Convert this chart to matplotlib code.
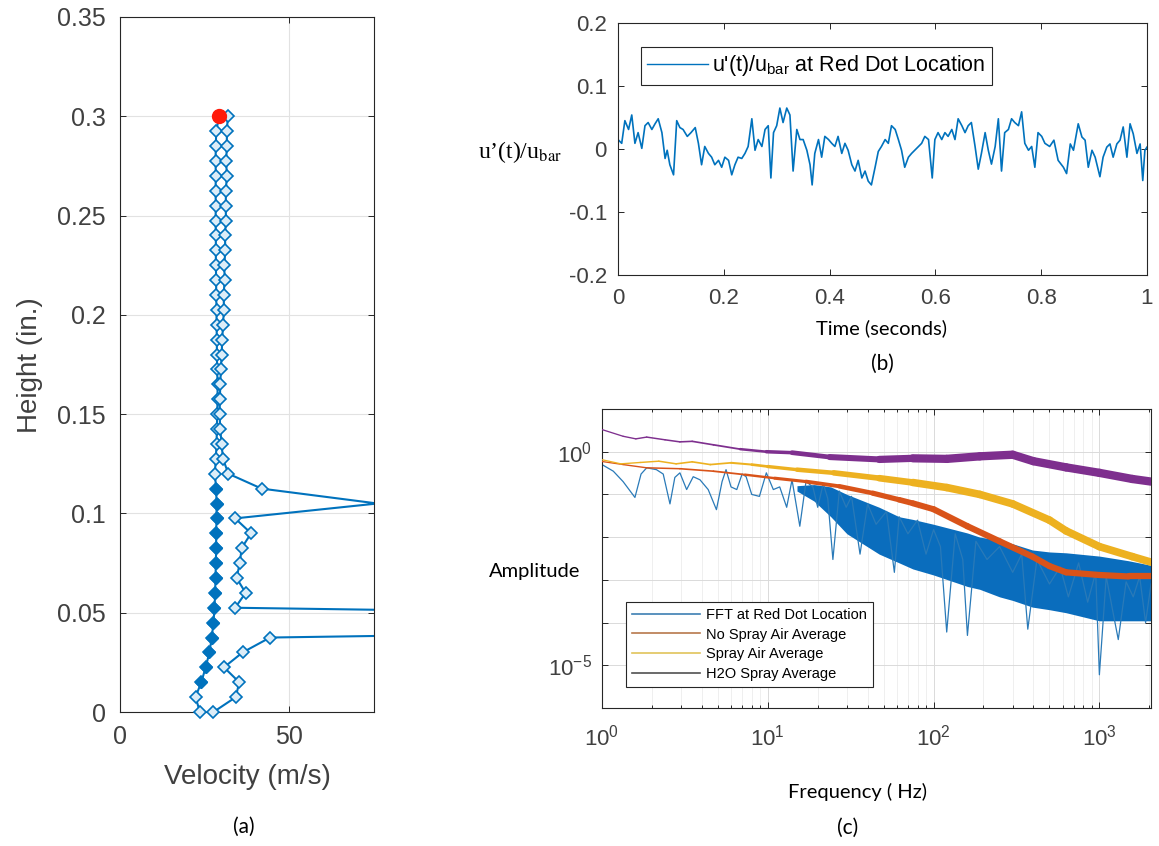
import numpy as np
import matplotlib
matplotlib.use("Agg")
import matplotlib.pyplot as plt
from matplotlib.collections import LineCollection
from matplotlib.lines import Line2D
from matplotlib.ticker import FixedLocator, FuncFormatter, FormatStrFormatter, LogLocator, NullFormatter

# ---------------- data ----------------
# (a) velocity profile: heights sampled every 0.0075 in.
heights = [0.0, 0.0075, 0.015, 0.0225, 0.03, 0.0375, 0.045, 0.0525, 0.06, 0.0675,
           0.075, 0.0825, 0.09, 0.0975, 0.105, 0.1125, 0.12, 0.1275, 0.135, 0.1425,
           0.15, 0.1575, 0.165, 0.1725, 0.18, 0.1875, 0.195, 0.2025, 0.21, 0.2175,
           0.225, 0.2325, 0.24, 0.2475, 0.255, 0.2625, 0.27, 0.2775, 0.285, 0.2925, 0.3]
# upward pass (bottom -> top)
vel_up = [23.6, 22.3, 24.0, 25.3, 26.4, 27.1, 27.6, 27.9, 28.1, 28.2,
          28.3, 28.4, 28.4, 28.5, 28.5, 28.4, 28.0, 28.3, 28.5, 28.6,
          28.7, 28.8, 28.8, 28.7, 28.6, 28.6, 28.5, 28.5, 28.4, 28.4,
          28.3, 28.3, 28.3, 28.2, 28.3, 28.2, 28.3, 28.2, 28.3, 28.4, 29.3]
# downward pass (top -> bottom)
vel_down = [31.8, 31.6, 31.5, 31.4, 31.5, 31.3, 31.2, 31.3, 31.0, 31.1,
            30.8, 30.9, 30.6, 30.7, 30.4, 30.2, 30.0, 29.8, 29.6, 29.5,
            29.4, 29.6, 30.0, 30.4, 32.0, 41.8, 76.0, 34.0, 38.7, 35.9,
            35.4, 34.4, 37.1, 34.0, 340.0, 44.3, 36.2, 30.7, 35.2, 34.2, 27.6]

# (b) u'(t)/u_bar time trace
time_s = [0.000, 0.007, 0.013, 0.020, 0.026, 0.032, 0.038, 0.045, 0.051, 0.057,
          0.064, 0.070, 0.076, 0.083, 0.089, 0.093, 0.098, 0.105, 0.111, 0.117,
          0.123, 0.131, 0.138, 0.146, 0.152, 0.158, 0.164, 0.171, 0.177, 0.183,
          0.190, 0.196, 0.202, 0.209, 0.215, 0.221, 0.227, 0.234, 0.240, 0.246,
          0.253, 0.259, 0.265, 0.272, 0.278, 0.284, 0.289, 0.294, 0.300, 0.306,
          0.312, 0.319, 0.325, 0.331, 0.338, 0.344, 0.350, 0.357, 0.363, 0.367,
          0.372, 0.379, 0.385, 0.391, 0.398, 0.404, 0.410, 0.416, 0.423, 0.429,
          0.435, 0.442, 0.448, 0.454, 0.461, 0.467, 0.473, 0.479, 0.486, 0.492,
          0.498, 0.505, 0.511, 0.517, 0.524, 0.530, 0.536, 0.542, 0.549, 0.555,
          0.561, 0.568, 0.574, 0.580, 0.587, 0.594, 0.599, 0.605, 0.612, 0.618,
          0.624, 0.631, 0.637, 0.643, 0.650, 0.656, 0.662, 0.668, 0.675, 0.681,
          0.687, 0.694, 0.700, 0.706, 0.713, 0.719, 0.725, 0.731, 0.738, 0.744,
          0.750, 0.757, 0.763, 0.769, 0.776, 0.782, 0.788, 0.794, 0.801, 0.807,
          0.816, 0.824, 0.832, 0.842, 0.848, 0.855, 0.861, 0.870, 0.877, 0.883,
          0.889, 0.896, 0.902, 0.911, 0.917, 0.924, 0.930, 0.936, 0.943, 0.949,
          0.955, 0.962, 0.968, 0.974, 0.981, 0.987, 0.992, 0.996, 1.000]
u_ratio = [0.015, 0.009, 0.045, 0.031, 0.054, 0.009, 0.026, 0.001, 0.037, 0.042,
           0.031, 0.040, 0.048, 0.026, -0.015, -0.002, -0.025, -0.041, 0.045, 0.034,
           0.031, 0.020, 0.026, 0.034, 0.009, -0.025, 0.004, -0.007, -0.013, -0.025,
           -0.018, -0.029, -0.013, -0.018, -0.041, -0.025, -0.013, -0.015, -0.007, 0.004,
           0.048, -0.002, 0.015, 0.004, 0.031, 0.037, -0.046, 0.026, 0.037, 0.065,
           0.042, 0.065, 0.054, -0.035, 0.031, 0.015, 0.015, -0.002, -0.025, -0.057,
           -0.007, 0.015, -0.013, 0.020, 0.015, 0.009, 0.004, 0.020, -0.007, 0.009,
           -0.002, -0.025, -0.035, -0.018, -0.046, -0.035, -0.051, -0.057, -0.029, -0.004,
           0.004, 0.015, 0.009, 0.037, 0.031, 0.015, -0.002, -0.029, -0.013, -0.007,
           -0.002, 0.004, 0.009, 0.020, 0.015, -0.046, 0.015, 0.026, 0.015, 0.026,
           0.020, 0.031, 0.015, 0.048, 0.037, 0.026, 0.037, 0.042, 0.004, -0.032,
           -0.007, 0.026, -0.002, -0.024, 0.004, 0.048, -0.035, 0.026, 0.031, 0.048,
           0.042, 0.037, 0.059, 0.009, -0.002, 0.004, -0.029, 0.026, 0.020, 0.009,
           0.004, 0.014, -0.018, -0.029, -0.039, 0.008, -0.002, 0.040, 0.019, 0.014,
           -0.029, -0.002, -0.013, -0.044, -0.013, 0.003, 0.008, -0.013, 0.008, 0.014,
           0.035, -0.013, 0.040, 0.024, -0.007, 0.008, -0.050, -0.002, 0.003]

# (c) spectra
fft_freq = [1.0, 1.17, 1.34, 1.58, 1.72, 1.86, 2.13, 2.34, 2.57, 2.75,
            2.95, 3.24, 3.55, 3.9, 4.37, 4.9, 5.3, 5.6, 6.0, 6.5,
            7.0, 7.4, 8.0, 8.9, 9.8, 10.8, 11.8, 13.0, 14.0, 15.6,
            17.0, 18.7, 20.0, 21.6, 23.0, 24.7, 27.0, 29.7, 32.0, 36.0,
            40.0, 45.0, 52.0, 58.0, 62.0, 70.0, 80.0, 90.0, 100.0, 110.0,
            120.0, 135.0, 150.0, 160.0, 180.0, 210.0, 250.0, 300.0, 340.0, 370.0,
            420.0, 500.0, 580.0, 650.0, 750.0, 850.0, 950.0, 1000.0, 1100.0, 1200.0,
            1300.0, 1450.0, 1600.0, 1750.0, 1900.0, 2048.0]
fft_amp = [0.50, 0.35, 0.20, 0.085, 0.30, 0.42, 0.38, 0.30, 0.06, 0.25,
           0.32, 0.13, 0.26, 0.22, 0.13, 0.044, 0.20, 0.38, 0.15, 0.13,
           0.30, 0.26, 0.10, 0.09, 0.32, 0.13, 0.15, 0.05, 0.22, 0.018,
           0.20, 0.15, 0.05, 0.18, 0.08, 0.003, 0.12, 0.05, 0.09, 0.004,
           0.06, 0.02, 0.04, 0.0015, 0.03, 0.012, 0.025, 0.004, 0.015, 0.006,
           0.00006, 0.012, 0.003, 0.00005, 0.008, 0.003, 0.006, 0.0015, 0.004, 0.00007,
           0.003, 0.0008, 0.002, 0.0004, 0.0025, 0.0003, 0.0015, 0.000006, 0.0012, 0.0002,
           0.00004, 0.0009, 0.0004, 0.0012, 0.0001, 0.0008]
# dense part of the FFT (upper / lower envelope)
fft_band_freq = [15, 19, 24, 30, 47, 62, 75, 100, 160, 190, 250, 300, 395, 500, 630, 1000, 1500, 2048]
fft_band_hi = [0.16, 0.17, 0.15, 0.10, 0.05, 0.03, 0.026, 0.02, 0.0125, 0.010, 0.0086, 0.007,
               0.005, 0.0045, 0.0043, 0.0036, 0.0028, 0.0022]
fft_band_lo = [0.12, 0.07, 0.03, 0.012, 0.004, 0.0025, 0.0018, 0.0013, 0.0007, 0.0006, 0.0004,
               0.00033, 0.00023, 0.0002, 0.00017, 0.00011, 0.00011, 0.00011]

nospray_freq = [1.0, 1.34, 1.86, 2.95, 4.7, 7.3, 11, 17, 27, 43, 62, 75, 100, 160, 250, 395, 500, 630, 1000, 1500, 2048]
nospray_amp = [0.59, 0.50, 0.42, 0.40, 0.35, 0.29, 0.24, 0.20, 0.155, 0.107, 0.075, 0.062, 0.045,
               0.018, 0.008, 0.0035, 0.0021, 0.0015, 0.0013, 0.0012, 0.0012]

spray_freq = [1.0, 1.3, 1.7, 2.2, 2.8, 3.5, 4.5, 6, 8, 10, 15, 25, 47, 75, 120, 190, 300, 500, 630, 1000, 1580, 2048]
spray_amp = [0.65, 0.52, 0.56, 0.60, 0.52, 0.58, 0.50, 0.55, 0.50, 0.45, 0.38, 0.32, 0.24, 0.19,
             0.145, 0.10, 0.06, 0.025, 0.014, 0.006, 0.0035, 0.0026]

h2o_freq = [1.0, 1.34, 1.6, 1.86, 2.4, 2.95, 3.5, 4.7, 6.8, 9.8, 14, 23.6, 47, 75, 120, 190, 300, 400, 630, 1000, 1580, 2048]
h2o_amp = [3.3, 2.3, 2.0, 2.2, 1.9, 1.7, 1.75, 1.45, 1.15, 1.0, 0.95, 0.75, 0.66, 0.70, 0.68,
           0.78, 0.85, 0.60, 0.43, 0.32, 0.23, 0.20]

legend_c = ["FFT at Red Dot Location", "No Spray Air Average", "Spray Air Average", "H2O Spray Average"]

# ---------------- style ----------------
W, H = 1159, 846
BLUE = "#0072BD"
ORANGE = "#D95319"
YELLOW = "#EDB120"
PURPLE = "#7E2F8E"
AXC = "#262626"
LBL = "#404040"

plt.rcParams["font.family"] = ["Liberation Sans", "DejaVu Sans"]
plt.rcParams["mathtext.fontset"] = "custom"
plt.rcParams["mathtext.rm"] = "Liberation Sans"
plt.rcParams["mathtext.it"] = "Liberation Sans:italic"

fig = plt.figure(figsize=(W / 100, H / 100), dpi=100)


def px_axes(left, top, right, bottom):
    return fig.add_axes([left / W, 1 - bottom / H, (right - left) / W, (bottom - top) / H])


def px_text(x, y, s, **kw):
    kw.setdefault("ha", "center")
    kw.setdefault("va", "center")
    fig.text(x / W, 1 - y / H, s, **kw)


def matlab_style(ax, size):
    for sp in ax.spines.values():
        sp.set_color(AXC)
        sp.set_linewidth(0.8)
    ax.tick_params(which="both", direction="in", top=True, right=True,
                   colors=AXC, labelcolor=LBL, labelsize=size, width=0.7)
    ax.tick_params(which="major", length=4)
    ax.tick_params(which="minor", length=2)


# ---------------- (a) ----------------
ax_a = px_axes(120, 17, 374, 712)
h_arr = np.array(heights)
v_all = np.concatenate([vel_up, vel_down])
h_all = np.concatenate([h_arr, h_arr[::-1]])

ax_a.plot(v_all, h_all, color=BLUE, lw=1.5, zorder=2)
inside = v_all <= 75
ax_a.plot(v_all[inside], h_all[inside], ls="none", marker="D", ms=6.5, mec=BLUE,
          mfc="#dcedf8", mew=1.2, clip_on=False, zorder=3)
core = (h_arr >= 0.015) & (h_arr <= 0.1125)
ax_a.plot(np.array(vel_up)[core], h_arr[core], ls="none", marker="D", ms=6.5,
          mec=BLUE, mfc=BLUE, zorder=4)
ax_a.plot([vel_up[-1]], [heights[-1]], "o", color="#ff1a0a", ms=10, zorder=5, clip_on=False)

ax_a.set_xlim(0, 75)
ax_a.set_ylim(0, 0.35)
ax_a.set_xticks([0, 50])
ax_a.set_yticks([0, 0.05, 0.1, 0.15, 0.2, 0.25, 0.3, 0.35])
ax_a.yaxis.set_major_formatter(FormatStrFormatter("%g"))
ax_a.grid(True, color="#e2e2e2", lw=0.8)
ax_a.set_axisbelow(True)
matlab_style(ax_a, 18)
ax_a.tick_params(axis="y", pad=10)
ax_a.tick_params(axis="x", pad=9)

px_text(30, 365, "Height (in.)", rotation=90, fontsize=20, color=LBL)
px_text(247, 777, "Velocity (m/s)", fontsize=20, color=LBL)
px_text(244, 827, "(a)", fontsize=15, family="Lato", color="black")

# ---------------- (b) ----------------
ax_b = px_axes(618, 23, 1147, 275)
ax_b.plot(time_s, u_ratio, color=BLUE, lw=1.2)
ax_b.set_xlim(0, 1)
ax_b.set_ylim(-0.2, 0.2)
ax_b.set_xticks([0, 0.2, 0.4, 0.6, 0.8, 1.0])
ax_b.set_yticks([-0.2, -0.1, 0, 0.1, 0.2])
ax_b.xaxis.set_major_formatter(FormatStrFormatter("%g"))
ax_b.yaxis.set_major_formatter(FormatStrFormatter("%g"))
matlab_style(ax_b, 16)
ax_b.tick_params(axis="x", pad=9)
ax_b.tick_params(axis="y", pad=8)
leg_b = ax_b.legend([Line2D([], [], color=BLUE, lw=1.0)],
                    [r"u'(t)/u$_{\mathrm{bar}}$ at Red Dot Location"],
                    loc="upper left", bbox_to_anchor=(0.0435, 0.905), borderaxespad=0,
                    fancybox=False, framealpha=1, edgecolor=AXC, fontsize=15.5,
                    handlelength=2.8, handletextpad=0.2, borderpad=0.3)
leg_b.get_frame().set_linewidth(0.8)

fig.text(478 / W, 1 - 152 / H, r"u’(t)/u$_{\mathrm{bar}}$", ha="left", va="center",
         fontsize=17, family="Liberation Serif", math_fontfamily="stix", color="black")
px_text(882, 328, "Time (seconds)", fontsize=14.5, family="Lato", color="black")
px_text(882, 364, "(b)", fontsize=15, family="Lato", color="black")

# ---------------- (c) ----------------
ax_c = px_axes(602, 409, 1151, 708)
ax_c.set_xscale("log")
ax_c.set_yscale("log")


def spectrum_line(ax, f, a, color, w_max, z):
    f = np.asarray(f, dtype=float)
    a = np.asarray(a, dtype=float)
    pts = np.column_stack([f, a])
    segs = np.stack([pts[:-1], pts[1:]], axis=1)
    mid = np.log10(np.sqrt(f[:-1] * f[1:]))
    lw = np.interp(mid, [0.0, 0.8, 1.3, 2.0], [0.9, 1.3, w_max * 0.6, w_max])
    lc = LineCollection(segs, colors=color, linewidths=lw, capstyle="round",
                        joinstyle="round", zorder=z)
    ax.add_collection(lc)


ax_c.fill_between(fft_band_freq, fft_band_lo, fft_band_hi, color="#0a6dbd", lw=0, zorder=1.5)
ax_c.plot(fft_freq, fft_amp, color="#2a7ab8", lw=0.9, zorder=2)
spectrum_line(ax_c, nospray_freq, nospray_amp, ORANGE, 4.5, 3)
spectrum_line(ax_c, spray_freq, spray_amp, YELLOW, 5.5, 4)
spectrum_line(ax_c, h2o_freq, h2o_amp, PURPLE, 6.0, 5)

ax_c.set_xlim(1, 2048)
ax_c.set_ylim(1e-6, 1e1)
ax_c.xaxis.set_major_locator(FixedLocator([1, 10, 100, 1000]))
ax_c.xaxis.set_major_formatter(FuncFormatter(lambda v, p: r"$10^{%d}$" % round(np.log10(v))))
ax_c.xaxis.set_minor_locator(LogLocator(base=10, subs=np.arange(2, 10), numticks=20))
ax_c.xaxis.set_minor_formatter(NullFormatter())
ax_c.yaxis.set_major_locator(FixedLocator([1e-6, 1e-5, 1e-4, 1e-3, 1e-2, 1e-1, 1, 10]))
ax_c.yaxis.set_major_formatter(FuncFormatter(
    lambda v, p: r"$10^{%d}$" % round(np.log10(v)) if round(np.log10(v)) in (0, -5) else ""))
ax_c.yaxis.set_minor_locator(FixedLocator([]))
ax_c.grid(True, which="major", color="#dadada", lw=0.7)
ax_c.grid(True, which="minor", axis="x", color="#ececec", lw=0.6)
ax_c.set_axisbelow(True)
matlab_style(ax_c, 16)
ax_c.tick_params(axis="x", pad=12)
ax_c.tick_params(axis="y", pad=7)

leg_handles = [Line2D([], [], color=c, lw=1.2) for c in ("#3d7fb3", "#b8784c", "#e0c45a", "#505050")]
leg_c = ax_c.legend(leg_handles, legend_c, loc="lower left", bbox_to_anchor=(0.0437, 0.070),
                    borderaxespad=0, fancybox=False, framealpha=1, edgecolor=AXC,
                    fontsize=10.5, handlelength=4.7, handletextpad=0.4, labelspacing=0.4,
                    borderpad=0.4)
leg_c.get_frame().set_linewidth(0.8)
leg_c.set_zorder(10)

px_text(535, 572, "Amplitude", fontsize=14.5, family="Lato", color="black")
px_text(858, 792, "Frequency ( Hz)", fontsize=14.5, family="Lato", color="black")
px_text(848, 828, "(c)", fontsize=15, family="Lato", color="black")

fig.savefig("out.png", dpi=100, facecolor="white")
